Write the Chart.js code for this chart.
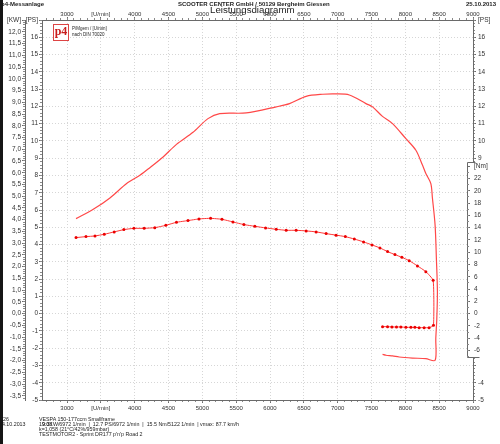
<!DOCTYPE html>
<html><head><meta charset="utf-8">
<script src="https://cdn.jsdelivr.net/npm/chart.js@4"></script>
<style>
html,body{margin:0;padding:0;background:#fff;}
#wrap{position:relative;width:500px;height:444px;overflow:hidden;font-family:'Liberation Sans',Arial,sans-serif;color:#222;}
#c{position:absolute;left:0;top:0;}
.t{position:absolute;white-space:pre;line-height:1;}
.b{font-weight:bold;}
#strip{position:absolute;left:0;top:0;width:3px;height:444px;background:#151515;}
#logo{position:absolute;left:53px;top:24px;width:14px;height:15px;border:1px solid #d44;background:#fff;}
#logo span{position:absolute;left:0;top:0;width:14px;text-align:center;font-family:'Liberation Serif','DejaVu Serif',serif;font-weight:bold;color:#c81e1e;font-size:12px;line-height:13px;}
</style></head>
<body><div id="wrap">
<canvas id="c" width="500" height="444"></canvas>
<div class="t b" style="left:1px;top:1px;font-size:6px;">p4-Messanlage</div>
<div class="t b" style="left:178px;top:1px;font-size:6px;">SCOOTER CENTER GmbH / 50129 Bergheim Giessen</div>
<div class="t b" style="left:466px;top:1px;font-size:6px;">25.10.2013</div>
<div class="t" style="left:210px;top:4.7px;font-size:9.7px;">Leistungsdiagramm</div>
<div id="logo"><span>p4</span></div>
<div class="t" style="left:72px;top:27px;font-size:4.5px;">P/Mgem / [U/min]</div>
<div class="t" style="left:72px;top:33px;font-size:4.5px;">nach DIN 70020</div>
<div class="t" style="left:0px;top:417.4px;font-size:5.3px;">626</div>
<div class="t" style="left:39px;top:417.4px;font-size:5.3px;">VESPA 150-177ccm Smallframe</div>
<div class="t" style="left:-1px;top:422.4px;font-size:5.3px;">24.10.2013</div>
<div class="t" style="left:39px;top:422.4px;font-size:5.3px;">19:03</div>
<div class="t" style="left:42px;top:422.4px;font-size:5.3px;">9.3KW/6972 1/min  |  12.7 PS/6972 1/min  |  15.5 Nm/5122 1/min  | vmax: 87.7 km/h</div>
<div class="t" style="left:39px;top:427.4px;font-size:5.3px;">k=1,058 (21°C/42%/959mbar)</div>
<div class="t" style="left:39px;top:432.4px;font-size:5.3px;">TESTMOTOR2 - Sprint DR177 p'n'p Road 2</div>
<div id="strip"></div>
</div>
<script>
// ---- data ----
const rpmTicks = [3000,3500,4000,4500,5000,5500,6000,6500,7000,7500,8000,8500,9000];
const rpmTickLabels = ['3000','[U/min]','4000','4500','5000','5500','6000','6500','7000','7500','8000','8500','9000'];
const psTicks = [-5,-4,-3,-2,-1,0,1,2,3,4,5,6,7,8,9,10,11,12,13,14,15,16];
const psRightLabelled = [16,15,14,13,12,11,10,9,-4,-5];
const kwTicks = [-3.5,-3,-2.5,-2,-1.5,-1,-0.5,0,0.5,1,1.5,2,2.5,3,3.5,4,4.5,5,5.5,6,6.5,7,7.5,8,8.5,9,9.5,10,10.5,11,11.5,12];
const nmTicks = [-6,-4,-2,0,2,4,6,8,10,12,14,16,18,20,22];
const unitLabels = {kw:'[KW]', ps:'[PS]', nm:'[Nm]'};

const powerRpm = [3133,3388,3634,3881,4077,4224,4420,4617,4862,5083,5256,5649,6092,6288,6534,6779,6972,7172,7418,7516,7662,7811,8008,8156,8253,8303,8377,8400,8440,8459,8474,8465,8450,8440,8303,8105,7909,7811,7713,7663];
const powerPs  = [5.50,6.04,6.70,7.53,8.01,8.45,9.07,9.80,10.50,11.29,11.58,11.62,11.97,12.16,12.58,12.70,12.72,12.66,12.16,11.97,11.42,11.00,10.13,9.46,8.60,8.11,7.53,6.70,5.11,3.18,1.27,-0.29,-1.45,-2.70,-2.61,-2.57,-2.51,-2.45,-2.41,-2.36];

const torqueRpm = [3133,3280,3413,3550,3697,3840,3988,4140,4297,4460,4617,4788,4950,5122,5290,5452,5614,5776,5934,6092,6239,6386,6534,6681,6829,6976,7113,7246,7383,7507,7625,7737,7846,7949,8057,8179,8303,8411,8416,8351,8278,8204,8141,8082,8008,7934,7869,7802,7737,7663];
const torqueNm  = [12.38,12.54,12.65,12.92,13.31,13.68,13.89,13.89,14.00,14.38,14.87,15.15,15.42,15.52,15.36,14.93,14.50,14.22,13.96,13.73,13.57,13.57,13.47,13.31,13.03,12.78,12.54,12.15,11.68,11.19,10.70,10.10,9.61,9.17,8.63,7.77,6.84,5.42,-1.91,-2.28,-2.28,-2.28,-2.23,-2.23,-2.23,-2.17,-2.17,-2.17,-2.12,-2.12];

// ---- scale constants ----
const RPM_MIN = 2630, RPM_MAX = 9000;
const PS_MIN = -5, PS_MAX = 17;
const PS_PER_KW = 1.35962;
const NM_PER_PS = 2.8125;

function range(a, b, step){ const out=[]; const n=Math.round((b-a)/step); for(let i=0;i<=n;i++) out.push(+(a+i*step).toFixed(4)); return out; }
function setTicks(values){ return s => { s.ticks = values.map(v => ({value:v})); }; }
function fixedSize(size){ return s => { if (s.isHorizontal()) s.height = size; else s.width = size; }; }

const font = {family:"'Liberation Sans', Arial, sans-serif", size:6};
const fontY = {family:"'Liberation Sans', Arial, sans-serif", size:6.5};
const gridCol = '#d6d6d6';
const axisCol = '#6a6a6a';
const txtCol = '#333';

function minorAxis(pos, weight, min, max, values, extra){
  return Object.assign({
    type:'linear', position:pos, weight, min, max,
    afterBuildTicks:setTicks(values), afterFit:fixedSize(0),
    ticks:{display:false, font:{size:1}},
    grid:{drawOnChartArea:false, drawTicks:true, tickLength:2, tickColor:'#8a8a8a', tickWidth:1, color:'#8a8a8a'},
    border:{display:false}
  }, extra||{});
}

const rpmLabel = v => { const i = rpmTicks.indexOf(v); return i >= 0 ? rpmTickLabels[i] : ''; };
const xGridColor = ctx => (ctx.tick && ctx.tick.value >= 3000 && ctx.tick.value <= 8500) ? gridCol : 'rgba(0,0,0,0)';

function xMain(pos, weight, size, pad){
  return {
    type:'linear', position:pos, weight, min:RPM_MIN, max:RPM_MAX,
    afterBuildTicks:setTicks(rpmTicks), afterFit:fixedSize(size),
    ticks:{autoSkip:false, maxRotation:0, minRotation:0, padding:pad, font, color:txtCol, callback:rpmLabel},
    grid:{color:xGridColor, lineWidth:1, tickLength:3, tickColor:axisCol, tickWidth:1, drawOnChartArea: pos==='bottom'},
    border:{display:true, color:axisCol, width:1, dash:[1,2]}
  };
}

const kwMin = PS_MIN/PS_PER_KW, kwMax = PS_MAX/PS_PER_KW;
const nmMin = PS_MIN*NM_PER_PS, nmMax = PS_MAX*NM_PER_PS;

const nmBoxPlugin = {
  id:'nmBox',
  afterLayout(chart){
    const x = 467;
    ['yNm','yNmMinor'].forEach(id => {
      const s = chart.scales[id];
      s.left = x; s.right = chart.width; s.width = s.right - s.left;
      s._gridLineItems = null; s._labelItems = null;
    });
  },
  beforeDatasetsDraw(chart){
    const s = chart.scales.yNm, ctx = chart.ctx;
    const top = Math.round(s.getPixelForValue(24.7)) + 0.5;
    const bot = Math.round(s.getPixelForValue(-7)) + 0.5;
    const x = 467.5;
    ctx.save();
    ctx.fillStyle = '#fff';
    ctx.fillRect(x, top, chart.width - x, bot - top);
    ctx.strokeStyle = axisCol; ctx.lineWidth = 1;
    ctx.beginPath();
    ctx.moveTo(x + 8, top); ctx.lineTo(x, top); ctx.lineTo(x, bot); ctx.lineTo(x + 12, bot);
    ctx.stroke();
    ctx.restore();
  }
};

new Chart(document.getElementById('c'), {
  type:'line',
  data:{
    datasets:[
      {
        label:'Leistung [PS]', xAxisID:'x', yAxisID:'yPS',
        data: powerRpm.map((r,i)=>({x:r, y:powerPs[i]})),
        borderColor:'rgb(255,72,72)', borderWidth:1.2, pointRadius:0, tension:0.3, fill:false
      },
      {
        label:'Drehmoment [Nm]', xAxisID:'x', yAxisID:'yNm',
        data: torqueRpm.map((r,i)=>({x:r, y:torqueNm[i]})),
        borderColor:'rgb(255,55,55)', borderWidth:1, pointRadius:1.5, pointBackgroundColor:'rgb(235,0,0)',
        pointBorderWidth:0, tension:0.15, fill:false
      }
    ]
  },
  options:{
    responsive:false, animation:false, events:[],
    layout:{padding:0, autoPadding:false},
    plugins:{legend:{display:false}, tooltip:{enabled:false}, title:{display:false}},
    scales:{
      x: xMain('bottom', 1, 44, 2),
      xMinor: minorAxis('bottom', 0, RPM_MIN, RPM_MAX, range(2700, 9000, 100), {ticks:{display:false, font:{size:1}, minRotation:90, maxRotation:90}}),
      xTop: xMain('top', 1, 20, -0.5),
      xTopMinor: minorAxis('top', 0, RPM_MIN, RPM_MAX, range(2700, 9000, 100), {ticks:{display:false, font:{size:1}, minRotation:90, maxRotation:90}}),
      yPS: {
        type:'linear', position:'left', weight:1, min:PS_MIN, max:PS_MAX,
        afterBuildTicks:setTicks(psTicks.concat([PS_MAX])), afterFit:fixedSize(17),
        ticks:{autoSkip:false, padding:1, font:fontY, color:txtCol, callback:v => v===PS_MAX ? unitLabels.ps : String(v)},
        grid:{color:ctx => (ctx.tick && ctx.tick.value > PS_MIN && ctx.tick.value < PS_MAX) ? gridCol : 'rgba(0,0,0,0)', lineWidth:1, tickLength:3, tickColor:axisCol, tickWidth:1},
        border:{display:true, color:axisCol, width:1, dash:[1,2]}
      },
      yPSMinor: minorAxis('left', 0, PS_MIN, PS_MAX, range(-5, 17, 0.2)),
      yKW: {
        type:'linear', position:'left', weight:3, min:kwMin, max:kwMax,
        afterBuildTicks:setTicks(kwTicks.concat([kwMax])), afterFit:fixedSize(25),
        ticks:{autoSkip:false, padding:1, font:fontY, color:txtCol,
          callback:v => Math.abs(v-kwMax) < 1e-6 ? unitLabels.kw : v.toFixed(1).replace('.', ',')},
        grid:{drawOnChartArea:false, tickLength:3, tickColor:axisCol, color:axisCol, tickWidth:1},
        border:{display:true, color:axisCol, width:1}
      },
      yKWMinor: minorAxis('left', 2, kwMin, kwMax, range(-3.6, 12.5, 0.1)),
      yPSR: {
        type:'linear', position:'right', weight:1, min:PS_MIN, max:PS_MAX,
        afterBuildTicks:setTicks(psTicks.concat([PS_MAX])), afterFit:fixedSize(27),
        ticks:{autoSkip:false, padding:2, font:fontY, color:txtCol,
          callback:v => v===PS_MAX ? unitLabels.ps : (psRightLabelled.includes(v) ? String(v) : '')},
        grid:{drawOnChartArea:false, tickLength:3, tickColor:axisCol, color:axisCol, tickWidth:1},
        border:{display:true, color:axisCol, width:1}
      },
      yPSRMinor: minorAxis('right', 0, PS_MIN, PS_MAX, range(-5, 17, 0.2)),
      yNm: {
        type:'linear', position:'right', weight:5, min:nmMin, max:nmMax,
        afterBuildTicks:setTicks(nmTicks.concat([24])), afterFit:fixedSize(0),
        ticks:{autoSkip:false, padding:4, font:fontY, color:txtCol, z:1,
          callback:v => v===24 ? unitLabels.nm : String(v)},
        grid:{drawOnChartArea:false, tickLength:3, tickColor:axisCol, color:axisCol, tickWidth:1, z:1},
        border:{display:false}
      },
      yNmMinor: minorAxis('right', 6, nmMin, nmMax, range(-7, 23, 1), {z:1, ticks:{display:false, font:{size:1}, z:1}, grid:{drawOnChartArea:false, drawTicks:true, tickLength:2, tickColor:'#8a8a8a', tickWidth:1, color:'#8a8a8a', z:1}})
    }
  },
  plugins:[nmBoxPlugin]
});
</script>
</body></html>
